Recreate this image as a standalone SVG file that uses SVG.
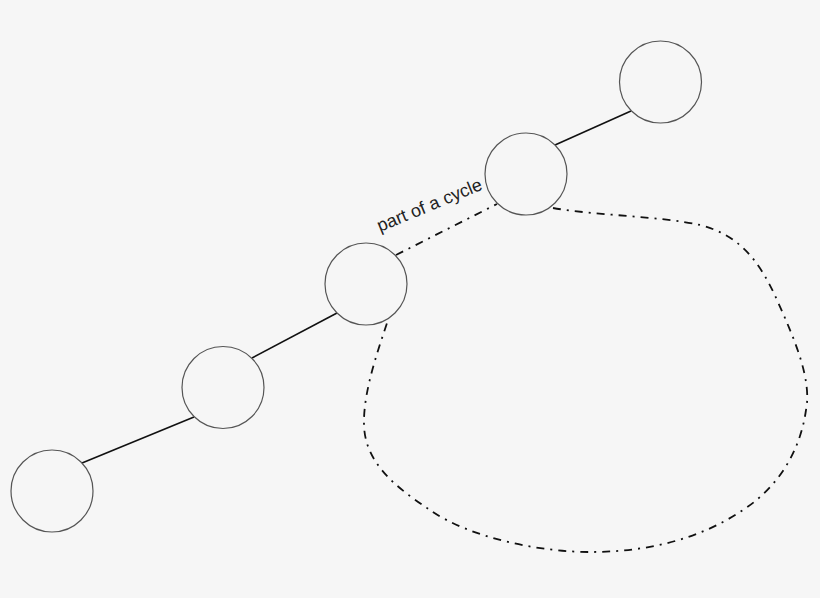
<svg xmlns="http://www.w3.org/2000/svg" width="820" height="598" viewBox="0 0 820 598">
  <style>
    .node { fill: #f6f6f6; stroke: #555555; stroke-width: 1.2; }
    .edge { fill: none; stroke: #111111; stroke-width: 1.6; }
    .cycle { fill: none; stroke: #111111; stroke-width: 1.8; stroke-dasharray: 8 6 2 6; }
    .label { font-family: "Liberation Sans", Arial, sans-serif; font-size: 18px; fill: #222222; }
  </style>
  <rect width="820" height="598" fill="#f6f6f6"/>
  <g id="connectors">
    <line class="edge" x1="82" y1="463" x2="194" y2="417"/>
    <line class="edge" x1="252" y1="358" x2="337" y2="313"/>
    <line class="edge" x1="555" y1="145" x2="631" y2="111"/>
    <line class="cycle" x1="396" y1="255" x2="497" y2="204"/>
    <path class="cycle" d="M553,208 C600,216 660,216 700,225 C740,235 760,262 777,300 C795,340 812,380 806,410 C800,452 778,488 740,512 C700,538 650,552 590,552 C540,552 470,538 430,510 C400,490 365,465 364,425 C363,390 380,345 388,320"/>
    <text class="label" transform="translate(380,232) rotate(-22.5)">part of a cycle</text>
  </g>
  <g id="node1"><circle class="node" cx="52" cy="491" r="41"/></g>
  <g id="node2"><circle class="node" cx="223" cy="387.5" r="41"/></g>
  <g id="node3"><circle class="node" cx="366" cy="284" r="41"/></g>
  <g id="node4"><circle class="node" cx="526" cy="174" r="41"/></g>
  <g id="node5"><circle class="node" cx="660.5" cy="82" r="41"/></g>
</svg>
